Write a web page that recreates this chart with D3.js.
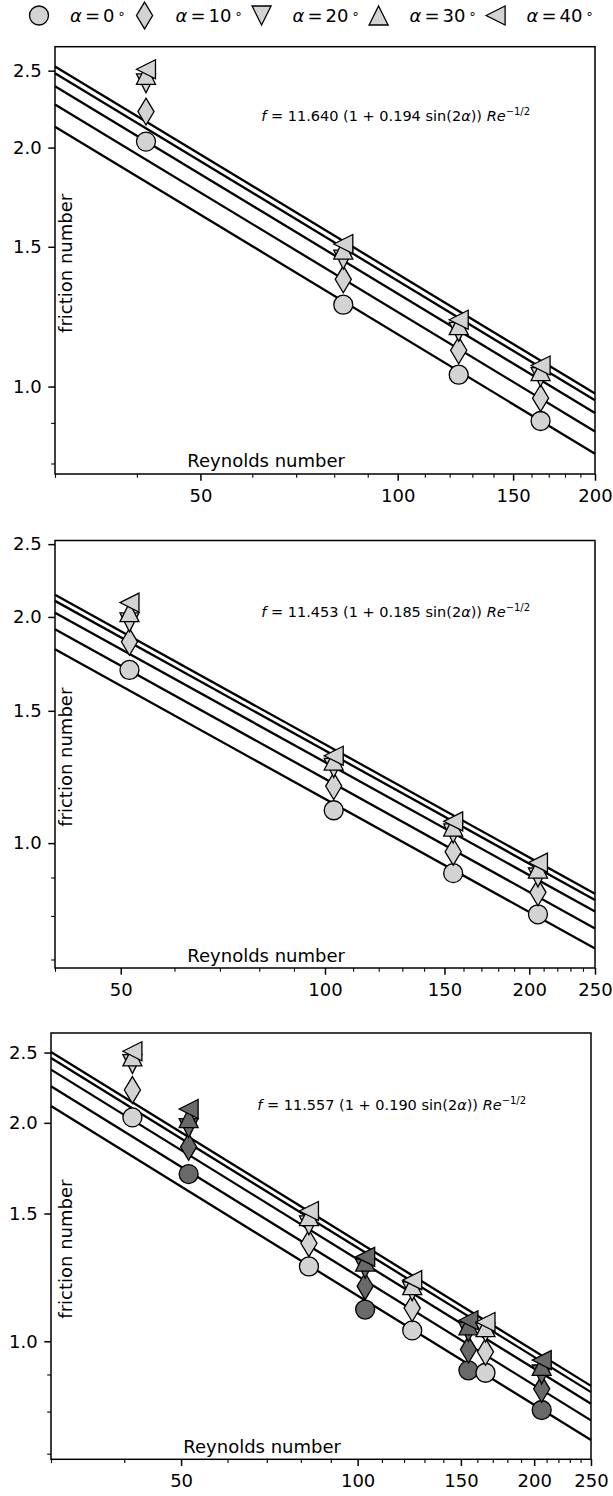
<!DOCTYPE html>
<html>
<head>
<meta charset="utf-8">
<script src="https://cdn.jsdelivr.net/npm/d3@7"></script>
<style>
  body { margin: 0; background: #fff; }
  svg { display: block; font-family: 'DejaVu Sans', sans-serif; }
  text { white-space: pre; }
</style>
</head>
<body>
<div id="chart"></div>
<script>
// Friction number vs Reynolds number, three log-log panels

// ---- data ----
const alphas = [0, 10, 20, 30, 40];
const shapes = ['circle', 'thinDiamond', 'triDown', 'triUp', 'triLeft'];

// first data set (light markers)
const reLight = [41.3, 82.6, 123.9, 165.2];
const fLight = [
  [2.035, 1.268, 1.035, 0.905],   // alpha = 0
  [2.22, 1.365, 1.111, 0.967],    // alpha = 10
  [2.41, 1.445, 1.172, 1.028],    // alpha = 20
  [2.47, 1.488, 1.195, 1.046],    // alpha = 30
  [2.51, 1.512, 1.214, 1.063]     // alpha = 40
];

// second data set (dark markers in the last panel)
const reDark = [51.5, 103, 154.5, 206];
const fDark = [
  [1.70, 1.106, 0.912, 0.804],
  [1.853, 1.191, 0.974, 0.860],
  [1.967, 1.259, 1.030, 0.900],
  [2.03, 1.288, 1.052, 0.925],
  [2.09, 1.307, 1.069, 0.942]
];

// fitted lines: value at left and right end of each panel, one row per alpha
const fitRe1 = [30, 200];
const fit1 = [[2.125, 0.823], [2.266, 0.878], [2.390, 0.926], [2.482, 0.961], [2.531, 0.980]];
const fitRe2 = [40, 250];
const fit2 = [[1.811, 0.724], [1.926, 0.770], [2.026, 0.811], [2.101, 0.840], [2.141, 0.856]];
const fitRe3 = [30, 250];
const fit3 = [[2.110, 0.731], [2.247, 0.778], [2.368, 0.820], [2.457, 0.851], [2.505, 0.868]];

const fitCoef1 = ['11.640', '0.194'];
const fitCoef2 = ['11.453', '0.185'];
const fitCoef3 = ['11.557', '0.190'];

const xTicks1 = [50, 100, 150, 200];
const xTicks2 = [50, 100, 150, 200, 250];
const yTicks = [1.0, 1.5, 2.0, 2.5];
const yMinorTicks = [0.7, 0.8, 0.9];

// ---- setup ----
const W = 613, H = 1496;
const LIGHT = '#d3d3d3', DARK = '#696969';
const MS = 19;
const FONT = 18;
const YLABEL_X = 71.7;   // baseline of the rotated y label, page coords

const svg = d3.select('#chart').append('svg')
  .attr('width', W)
  .attr('height', H);
svg.append('rect').attr('width', W).attr('height', H).attr('fill', '#fff');

function markerPath(shape) {
  const h = MS / 2;
  switch (shape) {
    case 'circle':
      return `M${-h},0A${h},${h} 0 1,0 ${h},0A${h},${h} 0 1,0 ${-h},0Z`;
    case 'thinDiamond': {
      const dh = MS * Math.SQRT2 / 2, dw = 0.6 * dh;
      return `M0,${-dh}L${dw},0L0,${dh}L${-dw},0Z`;
    }
    case 'triUp':
      return `M0,${-h}L${h},${h}L${-h},${h}Z`;
    case 'triDown':
      return `M0,${h}L${h},${-h}L${-h},${-h}Z`;
    case 'triLeft':
      return `M${-h},0L${h},${-h}L${h},${h}Z`;
  }
}

function drawMarker(g, shape, x, y, fill) {
  g.append('path')
    .attr('d', markerPath(shape))
    .attr('transform', `translate(${x},${y})`)
    .attr('fill', fill)
    .attr('stroke', '#000')
    .attr('stroke-width', 1.3)
    .attr('stroke-linejoin', 'miter');
}

// ---- legend ----
const legend = svg.append('g').attr('transform', 'translate(0,15.5)');
let lx = 39;
alphas.forEach((a, i) => {
  drawMarker(legend, shapes[i], lx, 0, LIGHT);
  const t = legend.append('text')
    .attr('x', lx + 31)
    .attr('y', 6.5)
    .attr('font-size', FONT);
  t.append('tspan').attr('font-style', 'italic').text('α');
  t.append('tspan').attr('dx', 3).text('=');
  t.append('tspan').attr('dx', 3).text(a);
  t.append('tspan').attr('dx', 3).attr('font-size', 13).attr('dy', -4).text('∘');
  lx = lx + 31 + t.node().getComputedTextLength() + 28;
});

// ---- panels ----
const panels = [
  { top: 46.7, bottom: 474, left: 55, right: 595, xDomain: [30, 200], yDomain: [0.776, 2.68],
    xTicks: xTicks1, fitRe: fitRe1, fit: fit1, coef: fitCoef1, annY: 69.5,
    sets: [{ re: reLight, f: fLight, fill: LIGHT }] },
  { top: 540.5, bottom: 968, left: 55, right: 595, xDomain: [40, 250], yDomain: [0.682, 2.528],
    xTicks: xTicks2, fitRe: fitRe2, fit: fit2, coef: fitCoef2, annY: 71,
    sets: [{ re: reDark, f: fDark, fill: LIGHT }] },
  { top: 1033, bottom: 1459.3, left: 51, right: 591, xDomain: [30, 250], yDomain: [0.6876, 2.66],
    xTicks: xTicks2, fitRe: fitRe3, fit: fit3, coef: fitCoef3, annY: 72,
    sets: [{ re: reDark, f: fDark, fill: DARK }, { re: reLight, f: fLight, fill: LIGHT }] }
];

panels.forEach(drawPanel);

function drawPanel(p) {
  const w = p.right - p.left, h = p.bottom - p.top;
  const g = svg.append('g').attr('transform', `translate(${p.left},${p.top})`);

  const x = d3.scaleLog().domain(p.xDomain).range([0, w]);
  const y = d3.scaleLog().domain(p.yDomain).range([h, 0]);

  // minor ticks every 10 on the x axis
  const xMinor = d3.range(p.xDomain[0], p.xDomain[1] + 1, 10).filter(v => !p.xTicks.includes(v));

  const styleAxis = sel => {
    sel.select('.domain').remove();
    sel.attr('font-family', "'DejaVu Sans', sans-serif").attr('font-size', FONT);
    sel.selectAll('line').attr('stroke', '#000');
    sel.selectAll('text').attr('fill', '#000');
  };

  g.append('g')
    .attr('transform', `translate(0,${h})`)
    .call(d3.axisBottom(x).tickValues(xMinor).tickSize(3.8).tickFormat(''))
    .call(styleAxis)
    .selectAll('line').attr('stroke-width', 1.1);
  g.append('g')
    .attr('transform', `translate(0,${h})`)
    .call(d3.axisBottom(x).tickValues(p.xTicks).tickSize(6.7).tickPadding(8.7).tickFormat(d3.format('d')))
    .call(styleAxis)
    .selectAll('line').attr('stroke-width', 1.5);

  g.append('g')
    .call(d3.axisLeft(y).tickValues(yMinorTicks.filter(v => v >= p.yDomain[0])).tickSize(3.8).tickFormat(''))
    .call(styleAxis)
    .selectAll('line').attr('stroke-width', 1.1);
  g.append('g')
    .call(d3.axisLeft(y).tickValues(yTicks).tickSize(6.7).tickPadding(6.6).tickFormat(d3.format('.1f')))
    .call(styleAxis)
    .selectAll('line').attr('stroke-width', 1.5);

  // fitted lines
  const line = d3.line().x(d => x(d[0])).y(d => y(d[1]));
  p.fit.forEach(row => {
    g.append('path')
      .datum(p.fitRe.map((re, j) => [re, row[j]]))
      .attr('d', line)
      .attr('fill', 'none')
      .attr('stroke', '#000')
      .attr('stroke-width', 2.3);
  });

  // data points, later alphas on top
  p.sets.forEach(s => {
    s.f.forEach((row, i) => {
      row.forEach((v, j) => drawMarker(g, shapes[i], x(s.re[j]), y(v), s.fill));
    });
  });

  // frame
  g.append('rect')
    .attr('width', w).attr('height', h)
    .attr('fill', 'none')
    .attr('stroke', '#000')
    .attr('stroke-width', 1.5);

  // fit equation
  const ann = g.append('text')
    .attr('x', 0.382 * w)
    .attr('y', p.annY + 5)
    .attr('font-size', 14.5);
  ann.append('tspan').attr('font-style', 'italic').text('f');
  ann.append('tspan').text(` = ${p.coef[0]} (1 + ${p.coef[1]} sin(2`);
  ann.append('tspan').attr('font-style', 'italic').text('α');
  ann.append('tspan').text(')) ');
  ann.append('tspan').attr('font-style', 'italic').text('Re');
  ann.append('tspan').attr('font-size', 10).attr('dy', -6).text('−1/2');

  // axis labels, placed inside the frame
  g.append('text')
    .attr('x', 0.245 * w)
    .attr('y', h - 6.5)
    .attr('font-size', FONT)
    .text('Reynolds number');
  g.append('text')
    .attr('transform', `translate(${YLABEL_X - p.left},${h / 2 + 3}) rotate(-90)`)
    .attr('text-anchor', 'middle')
    .attr('font-size', FONT)
    .text('friction number');
}
</script>
</body>
</html>
